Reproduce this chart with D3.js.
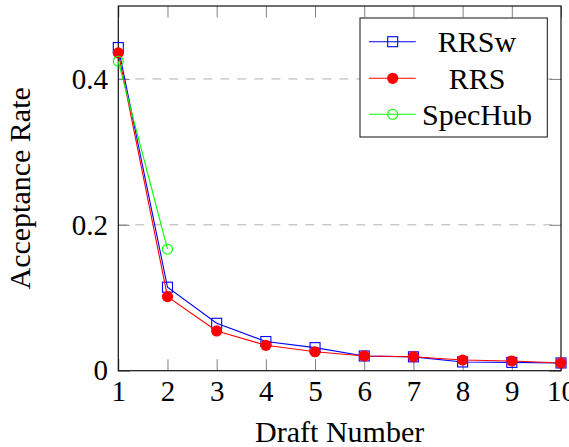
<!DOCTYPE html>
<html lang="en">
<head>
    <meta charset="UTF-8">
    <title>Acceptance Rate vs Draft Number</title>
    <script src="https://d3js.org/d3.v7.min.js"></script>
    <style>
        body { margin: 0; background: #fff; }
        svg { display: block; }
        .tick line { stroke: #808080; stroke-width: 1; }
    </style>
</head>
<body>
    <svg width="569" height="447"></svg>
    <script>
        // data
        const drafts = [1, 2, 3, 4, 5, 6, 7, 8, 9, 10];
        const rrsw = [0.443, 0.1145, 0.065, 0.040, 0.0316, 0.0202, 0.019, 0.012, 0.0114, 0.0106];
        const rrs = [0.4357, 0.1016, 0.0545, 0.0348, 0.026, 0.0202, 0.0192, 0.0147, 0.0133, 0.0106];
        const specHubDrafts = [1, 2];
        const specHub = [0.4242, 0.1666];
        const yTicks = [0, 0.2, 0.4];
        const yTickLabels = ["0", "0.2", "0.4"];
        const gridTicks = [0.2, 0.4];

        const serif = "Liberation Serif, Times New Roman, Times, DejaVu Serif, serif";
        const width = 569, height = 447;
        const margin = {top: 6, right: 8, bottom: 76.3, left: 118.3};
        const w = width - margin.left - margin.right;
        const h = height - margin.top - margin.bottom;

        const svg = d3.select("svg");
        const g = svg.append("g").attr("transform", `translate(${margin.left},${margin.top})`);

        const x = d3.scaleLinear().domain([1, 10]).range([0, w]);
        const y = d3.scaleLinear().domain([0, 0.5]).range([h, 0]);

        // grid
        g.selectAll("line.grid").data(gridTicks).enter().append("line")
            .attr("class", "grid")
            .attr("x1", 0).attr("x2", w)
            .attr("y1", d => y(d)).attr("y2", d => y(d))
            .attr("stroke", "#b0b0b0")
            .attr("stroke-width", 1)
            .attr("stroke-dasharray", "9,8");

        // axes with inward ticks
        g.append("g").attr("transform", `translate(0,${h})`)
            .call(d3.axisBottom(x).tickValues(drafts).tickFormat(d3.format("d")).tickSize(-11.5).tickPadding(9.4));
        g.append("g")
            .call(d3.axisTop(x).tickValues(drafts).tickSize(-11.5).tickFormat(""));
        g.append("g")
            .call(d3.axisLeft(y).tickValues(yTicks).tickFormat((d, i) => yTickLabels[i]).tickSize(-11.5).tickPadding(10.3));
        g.append("g").attr("transform", `translate(${w},0)`)
            .call(d3.axisRight(y).tickValues(yTicks).tickSize(-11.5).tickFormat(""));
        g.selectAll(".domain").remove();
        g.selectAll(".tick text")
            .attr("font-family", serif)
            .attr("font-size", 29)
            .attr("fill", "#000");

        // frame
        g.append("rect")
            .attr("width", w).attr("height", h)
            .attr("fill", "none")
            .attr("stroke", "#111")
            .attr("stroke-width", 1.2);

        const line = d3.line().x(d => x(d[0])).y(d => y(d[1]));

        const series = [
            {name: "RRSw", xs: drafts, ys: rrsw, color: "#0000ff", marker: "square"},
            {name: "RRS", xs: drafts, ys: rrs, color: "#ff0000", marker: "dot"},
            {name: "SpecHub", xs: specHubDrafts, ys: specHub, color: "#00ff00", marker: "circle"}
        ];

        function drawMarker(sel, kind, color) {
            if (kind === "square") {
                sel.append("rect")
                    .attr("x", -5).attr("y", -5).attr("width", 10).attr("height", 10)
                    .attr("fill", "none").attr("stroke", color).attr("stroke-width", 1.1);
            } else if (kind === "dot") {
                sel.append("circle").attr("r", 5.6).attr("fill", color);
            } else {
                sel.append("circle").attr("r", 5)
                    .attr("fill", "none").attr("stroke", color).attr("stroke-width", 1.1);
            }
        }

        series.forEach(s => {
            const pts = s.xs.map((d, i) => [d, s.ys[i]]);
            g.append("path")
                .datum(pts)
                .attr("d", line)
                .attr("fill", "none")
                .attr("stroke", s.color)
                .attr("stroke-width", 1.1);
            g.selectAll(null).data(pts).enter().append("g")
                .attr("transform", d => `translate(${x(d[0])},${y(d[1])})`)
                .each(function() { drawMarker(d3.select(this), s.marker, s.color); });
        });

        // axis labels
        svg.append("text")
            .attr("font-family", serif).attr("font-size", 30)
            .attr("x", margin.left + w / 2)
            .attr("y", 441.5)
            .attr("text-anchor", "middle")
            .text("Draft Number");
        svg.append("text")
            .attr("font-family", serif).attr("font-size", 30)
            .attr("transform", `translate(30,${margin.top + h / 2}) rotate(-90)`)
            .attr("text-anchor", "middle")
            .text("Acceptance Rate");

        // legend
        const legend = svg.append("g").attr("transform", "translate(360,18)");
        legend.append("rect")
            .attr("width", 187.3).attr("height", 119)
            .attr("fill", "#fff")
            .attr("stroke", "#111")
            .attr("stroke-width", 1);
        const rows = [23.7, 60.3, 96.3];
        series.forEach((s, i) => {
            const row = legend.append("g").attr("transform", `translate(0,${rows[i]})`);
            row.append("line")
                .attr("x1", 9).attr("x2", 55.7)
                .attr("stroke", s.color).attr("stroke-width", 1.1);
            drawMarker(row.append("g").attr("transform", "translate(32.7,0)"), s.marker, s.color);
            row.append("text")
                .attr("font-family", serif).attr("font-size", 30)
                .attr("x", 117)
                .attr("dy", "0.34em")
                .attr("text-anchor", "middle")
                .text(s.name);
        });
    </script>
</body>
</html>
